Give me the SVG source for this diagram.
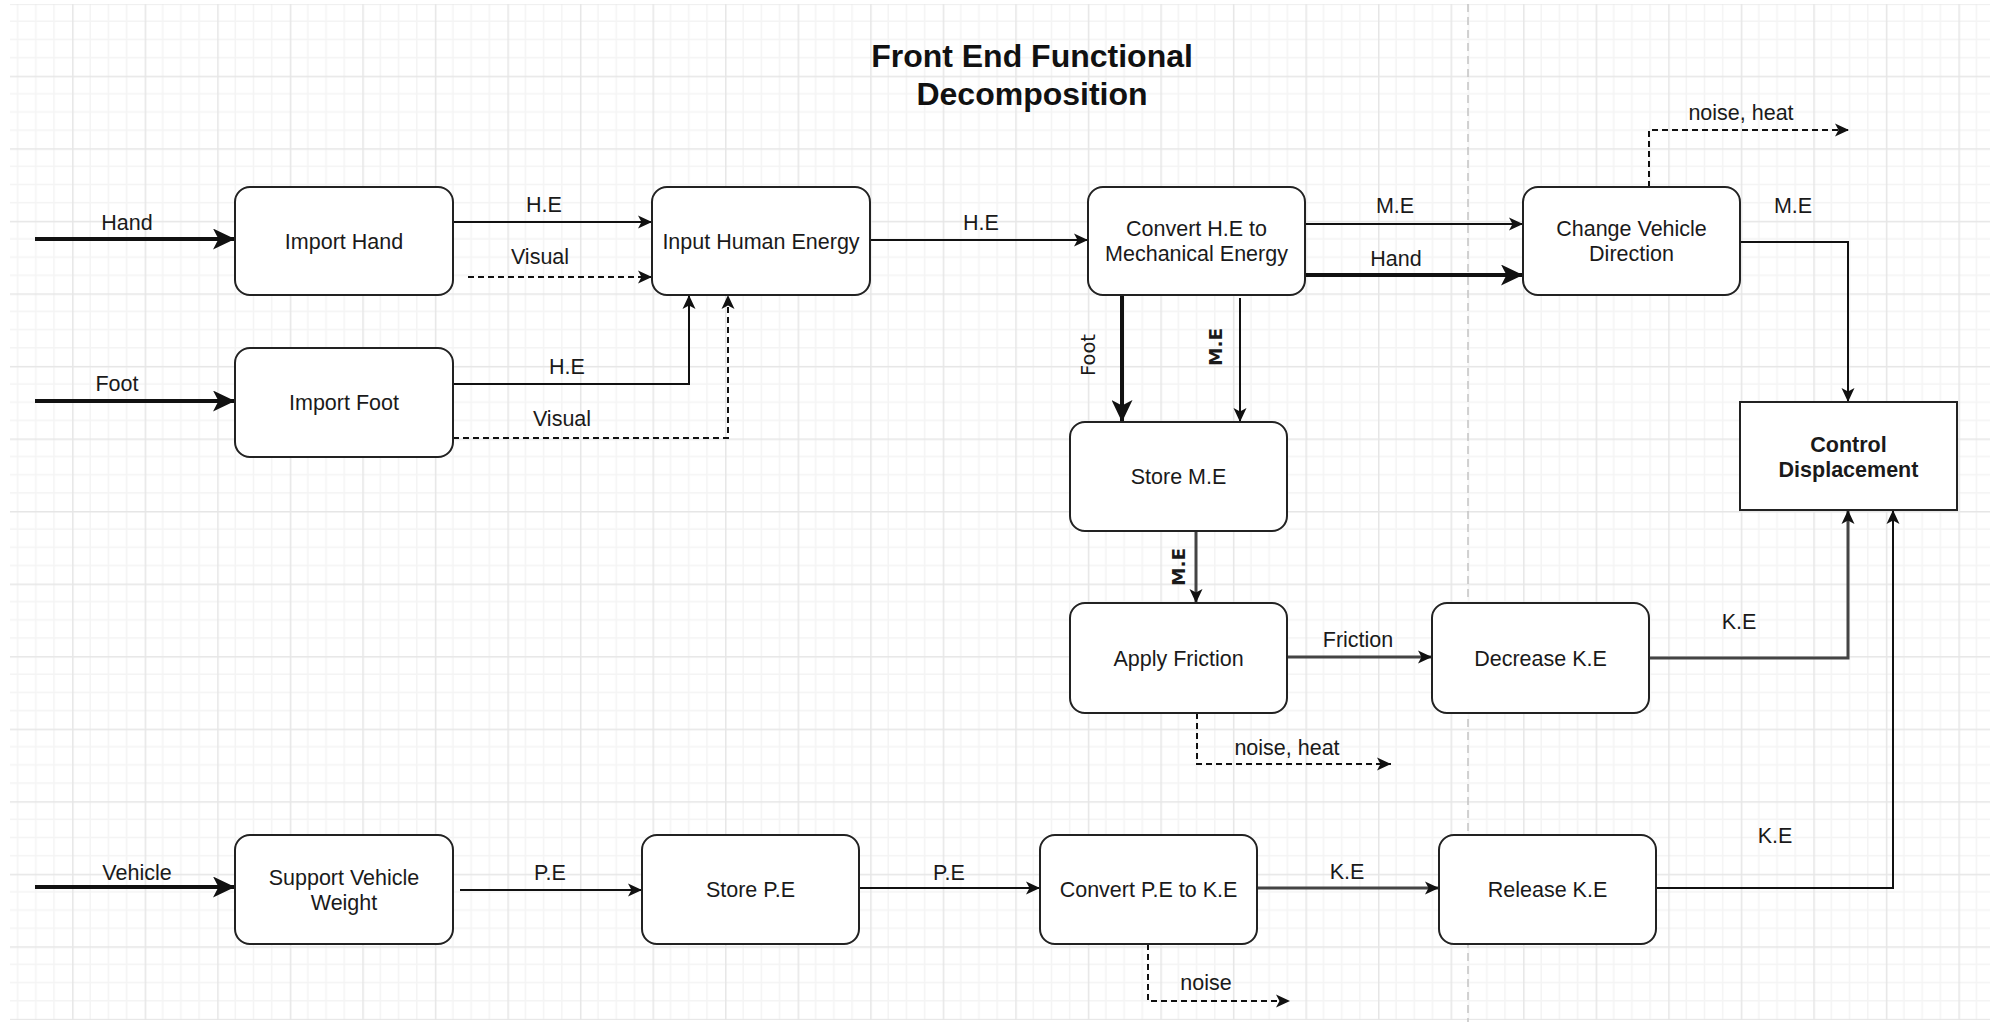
<svg xmlns="http://www.w3.org/2000/svg" width="1990" height="1022" viewBox="0 0 1990 1022">
<defs>
<pattern id="grid" x="-0.45" y="3.15" width="72.55" height="72.55" patternUnits="userSpaceOnUse">
<path d="M18.14,0 V72.55 M36.28,0 V72.55 M54.41,0 V72.55 M0,18.14 H72.55 M0,36.28 H72.55 M0,54.41 H72.55" stroke="#f4f4f4" stroke-width="1.5" fill="none"/>
<path d="M0.75,0 V72.55 M0,0.75 H72.55" stroke="#e6e6e6" stroke-width="1.5" fill="none"/>
</pattern>
<marker id="aThin" viewBox="0 0 14 14" refX="14" refY="7" markerWidth="14" markerHeight="14" markerUnits="userSpaceOnUse" orient="auto">
<path d="M0,0.5 L14,7 L0,13.5 L3.5,7 Z" fill="#111"/>
</marker>
<marker id="aThick" viewBox="0 0 22 21" refX="22" refY="10.5" markerWidth="22" markerHeight="21" markerUnits="userSpaceOnUse" orient="auto">
<path d="M0,0 L22,10.5 L0,21 L5.5,10.5 Z" fill="#111"/>
</marker>
</defs>
<style>
.node rect{fill:#fff;stroke:#222;stroke-width:2}
.lbl{font-family:"Liberation Sans",Arial,sans-serif;font-size:21.5px;fill:#1a1a1a;text-anchor:middle}
.bold{font-weight:bold}
.title{font-family:"Liberation Sans",Arial,sans-serif;font-size:32px;font-weight:bold;fill:#111;text-anchor:middle}
.vl{font-family:"DejaVu Sans",sans-serif;fill:#1a1a1a;text-anchor:middle}
.c{fill:none;stroke:#111;stroke-width:2}
.thick{stroke-width:4}
.dash{stroke-dasharray:6 4}
.gray{stroke:#444;stroke-width:3}
</style>
<rect x="0" y="0" width="1990" height="1022" fill="#fff"/>
<rect x="10" y="4" width="1980" height="1016" fill="url(#grid)"/>
<path d="M1468,4 V1022" stroke="#c4c4c4" stroke-width="1.5" stroke-dasharray="8 5" fill="none"/>

<text class="title" x="1032" y="67">Front End Functional</text>
<text class="title" x="1032" y="105">Decomposition</text>

<g id="connectors">
<path class="c thick" d="M35,239 H235" marker-end="url(#aThick)"/>
<path class="c thick" d="M35,401 H235" marker-end="url(#aThick)"/>
<path class="c thick" d="M35,887 H235" marker-end="url(#aThick)"/>
<path class="c" d="M453,222 H652" marker-end="url(#aThin)"/>
<path class="c dash" d="M468,277 H652" marker-end="url(#aThin)"/>
<path class="c" d="M453,384 H689 V295" marker-end="url(#aThin)"/>
<path class="c dash" d="M453,438 H728 V295" marker-end="url(#aThin)"/>
<path class="c" d="M871,240 H1088" marker-end="url(#aThin)"/>
<path class="c" d="M1305,224 H1523" marker-end="url(#aThin)"/>
<path class="c thick" d="M1305,275 H1523" marker-end="url(#aThick)"/>
<path class="c dash" d="M1649,187 V130 H1849" marker-end="url(#aThin)"/>
<path class="c" d="M1740,242 H1848 V402" marker-end="url(#aThin)"/>
<path class="c thick" d="M1122,295 V422" marker-end="url(#aThick)"/>
<path class="c" d="M1240,298 V422" marker-end="url(#aThin)"/>
<path class="c gray" d="M1196,531 V603" marker-end="url(#aThin)"/>
<path class="c gray" d="M1287,657 H1432" marker-end="url(#aThin)"/>
<path class="c gray" d="M1649,658 H1848 V510" marker-end="url(#aThin)"/>
<path class="c dash" d="M1197,713 V764 H1391" marker-end="url(#aThin)"/>
<path class="c" d="M460,890 H642" marker-end="url(#aThin)"/>
<path class="c" d="M859,888 H1040" marker-end="url(#aThin)"/>
<path class="c gray" d="M1257,888 H1439" marker-end="url(#aThin)"/>
<path class="c dash" d="M1148,944 V1001 H1290" marker-end="url(#aThin)"/>
<path class="c" d="M1656,888 H1893 V510" marker-end="url(#aThin)"/>

<text class="lbl" x="127" y="230">Hand</text>
<text class="lbl" x="117" y="391">Foot</text>
<text class="lbl" x="137" y="880">Vehicle</text>
<text class="lbl" x="544" y="212">H.E</text>
<text class="lbl" x="540" y="264">Visual</text>
<text class="lbl" x="567" y="374">H.E</text>
<text class="lbl" x="562" y="426">Visual</text>
<text class="lbl" x="981" y="230">H.E</text>
<text class="lbl" x="1395" y="213">M.E</text>
<text class="lbl" x="1396" y="266">Hand</text>
<text class="lbl" x="1741" y="120">noise, heat</text>
<text class="lbl" x="1793" y="213">M.E</text>
<text class="vl" font-size="19.5" transform="translate(1095,355) rotate(-90)">Foot</text>
<text class="vl" font-size="18.5" font-weight="bold" transform="translate(1222,347) rotate(-90)">M.E</text>
<text class="vl" font-size="18.5" font-weight="bold" transform="translate(1185,567) rotate(-90)">M.E</text>
<text class="lbl" x="1358" y="647">Friction</text>
<text class="lbl" x="1739" y="629">K.E</text>
<text class="lbl" x="1287" y="755">noise, heat</text>
<text class="lbl" x="550" y="880">P.E</text>
<text class="lbl" x="949" y="880">P.E</text>
<text class="lbl" x="1347" y="879">K.E</text>
<text class="lbl" x="1206" y="990">noise</text>
<text class="lbl" x="1775" y="843">K.E</text>
</g>

<g id="import-hand" class="node"><rect x="235" y="187" width="218" height="108" rx="15"/><text class="lbl" x="344" y="248.5">Import Hand</text></g>
<g id="import-foot" class="node"><rect x="235" y="348" width="218" height="109" rx="15"/><text class="lbl" x="344" y="410">Import Foot</text></g>
<g id="input-human-energy" class="node"><rect x="652" y="187" width="218" height="108" rx="15"/><text class="lbl" x="761" y="248.5">Input Human Energy</text></g>
<g id="convert-he" class="node"><rect x="1088" y="187" width="217" height="108" rx="15"/><text class="lbl" x="1196.5" y="236">Convert H.E to</text><text class="lbl" x="1196.5" y="261">Mechanical Energy</text></g>
<g id="change-direction" class="node"><rect x="1523" y="187" width="217" height="108" rx="15"/><text class="lbl" x="1631.5" y="236">Change Vehicle</text><text class="lbl" x="1631.5" y="261">Direction</text></g>
<g id="control-displacement" class="node"><rect x="1740" y="402" width="217" height="108"/><text class="lbl bold" x="1848.5" y="452">Control</text><text class="lbl bold" x="1848.5" y="477">Displacement</text></g>
<g id="store-me" class="node"><rect x="1070" y="422" width="217" height="109" rx="15"/><text class="lbl" x="1178.5" y="484">Store M.E</text></g>
<g id="apply-friction" class="node"><rect x="1070" y="603" width="217" height="110" rx="15"/><text class="lbl" x="1178.5" y="665.5">Apply Friction</text></g>
<g id="decrease-ke" class="node"><rect x="1432" y="603" width="217" height="110" rx="15"/><text class="lbl" x="1540.5" y="665.5">Decrease K.E</text></g>
<g id="support-weight" class="node"><rect x="235" y="835" width="218" height="109" rx="15"/><text class="lbl" x="344" y="884.5">Support Vehicle</text><text class="lbl" x="344" y="909.5">Weight</text></g>
<g id="store-pe" class="node"><rect x="642" y="835" width="217" height="109" rx="15"/><text class="lbl" x="750.5" y="897">Store P.E</text></g>
<g id="convert-pe" class="node"><rect x="1040" y="835" width="217" height="109" rx="15"/><text class="lbl" x="1148.5" y="897">Convert P.E to K.E</text></g>
<g id="release-ke" class="node"><rect x="1439" y="835" width="217" height="109" rx="15"/><text class="lbl" x="1547.5" y="897">Release K.E</text></g>
</svg>
